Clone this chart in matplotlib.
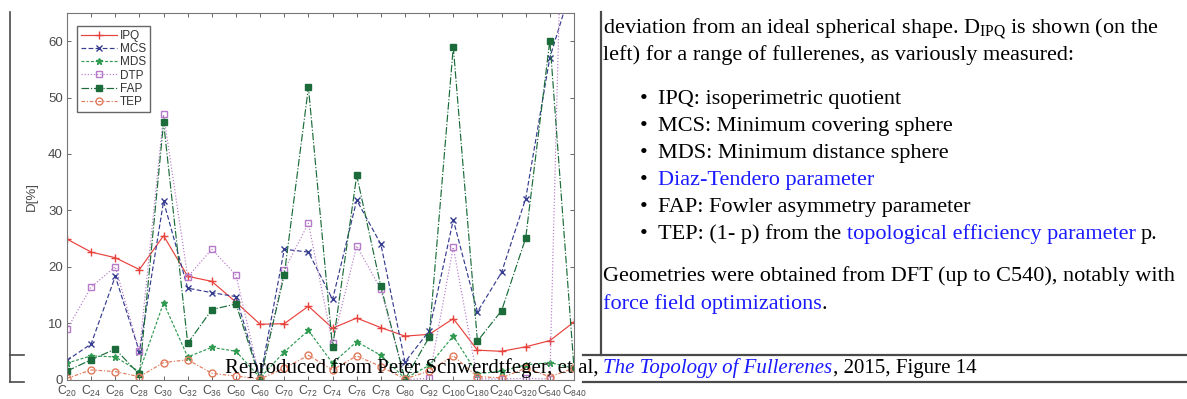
import matplotlib.pyplot as plt
from matplotlib.lines import Line2D
from matplotlib.text import Annotation

# fullerene sizes on the x axis
cages = ["20", "24", "26", "28", "30", "32", "36", "50", "60", "70", "72",
         "74", "76", "78", "80", "92", "100", "180", "240", "320", "540", "840"]

# D[%] for each measure
ipq = [24.9, 22.6, 21.6, 19.5, 25.5, 18.3, 17.4, 13.7, 9.8, 9.9, 13.0,
       9.1, 10.9, 9.2, 7.7, 8.0, 10.8, 5.2, 5.0, 5.8, 6.9, 10.2]
mcs = [3.4, 6.3, 18.3, 4.9, 31.6, 16.2, 15.4, 14.7, 0.2, 23.1, 22.6,
       14.2, 31.8, 24.0, 3.1, 8.6, 28.3, 12.0, 19.0, 32.1, 57.1, 71.0]
mds = [2.9, 4.2, 4.0, 1.4, 13.6, 4.0, 5.7, 5.0, 0.3, 4.9, 8.7,
       2.9, 6.7, 4.3, 0.2, 2.5, 7.7, 1.0, 1.5, 2.6, 3.0, 2.0]
dtp = [8.9, 16.4, 20.0, 5.0, 47.0, 18.2, 23.1, 18.5, 0.0, 19.4, 27.7,
       6.4, 23.7, 16.0, 0.0, 0.2, 23.5, 0.1, 0.1, 0.2, 0.1, 170.0]
fap = [1.5, 3.5, 5.4, 0.9, 45.6, 6.4, 12.4, 13.4, 0.0, 18.6, 51.8,
       5.7, 36.2, 16.5, 0.0, 7.5, 59.0, 6.8, 12.2, 25.1, 60.1, 2.0]
tep = [0.2, 1.7, 1.4, 0.5, 3.0, 3.5, 1.1, 0.6, 0.1, 2.0, 4.3,
       1.7, 4.2, 2.3, 0.1, 1.5, 4.2, 0.5, 0.3, 2.0, 0.5, 2.0]

W, H = 1187, 399


def fx(x):
    return x / W


def fy(y):
    return 1 - y / H


fig = plt.figure(figsize=(W / 100, H / 100), dpi=100)
ax = fig.add_axes([fx(67), fy(379.5), (574 - 67) / W, (379.5 - 13) / H])

xs = list(range(1, len(cages) + 1))
series = [
    ("IPQ", ipq, "#e8423c", "-", "+", "#e8423c", 6),
    ("MCS", mcs, "#363c8e", (0, (4, 2)), "x", "#363c8e", 5),
    ("MDS", mds, "#2f9a50", (0, (2.5, 1.5)), "*", "#2f9a50", 5),
    ("DTP", dtp, "#b57ac8", ":", "s", "none", 5),
    ("FAP", fap, "#1b6c3a", "-.", "s", "#1b6c3a", 5),
    ("TEP", tep, "#e07a5c", (0, (3, 1.5, 1, 1.5)), "o", "none", 5),
]
for name, vals, col, ls, mk, mfc, ms in series:
    ax.plot(xs, vals, color=col, linestyle=ls, marker=mk, markerfacecolor=mfc,
            markeredgecolor=col, markersize=ms, linewidth=0.85, label=name)

ax.set_xlim(1, 22)
ax.set_ylim(0, 65)
ax.set_yticks(range(0, 61, 10))
ax.set_xticks(xs)
ax.set_xticklabels([r"C$_{\mathregular{%s}}$" % c for c in cages])
ax.tick_params(direction="in", length=3, top=True, right=True, width=0.7,
               colors="#666666", labelcolor="#4a4a4a", labelsize=9.5, pad=3)
ax.tick_params(axis="x", labelsize=8.8)
for lab in ax.get_xticklabels() + ax.get_yticklabels():
    lab.set_family("Liberation Sans")
for sp in ax.spines.values():
    sp.set_color("#777777")
    sp.set_linewidth(0.8)
ax.set_ylabel("D[%]", family="Liberation Sans", fontsize=9.5, color="#4a4a4a",
              labelpad=7)

leg = ax.legend(loc="upper left", bbox_to_anchor=(0.02, 0.965), borderaxespad=0,
                prop={"family": "Liberation Sans", "size": 8.5},
                handlelength=3.0, handletextpad=0.3, labelspacing=0.1,
                borderpad=0.35, fancybox=False, framealpha=1, edgecolor="#666666")
for t in leg.get_texts():
    t.set_color("#333333")

# page frame lines around the figure
frame = "#4a4a4a"
fig.add_artist(Line2D([fx(10), fx(10)], [fy(12), fy(382)], color=frame, lw=1.2))
fig.add_artist(Line2D([fx(10), fx(24)], [fy(355), fy(355)], color=frame, lw=1.2))
fig.add_artist(Line2D([fx(10), fx(24)], [fy(382), fy(382)], color=frame, lw=1.2))
fig.add_artist(Line2D([fx(600.5), fx(600.5)], [fy(12), fy(355)], color=frame, lw=1.6))
fig.add_artist(Line2D([fx(583), fx(1187)], [fy(355), fy(355)], color=frame, lw=1.6))
fig.add_artist(Line2D([fx(583), fx(1187)], [fy(382), fy(382)], color=frame, lw=1.6))

serif = "Liberation Serif"
blue = "#1a1aff"
BODY = 16
SP = 4.0


def runs(x, y, pieces, size=BODY):
    prev = fig.text(fx(x), fy(y), pieces[0][0], color=pieces[0][1], style=pieces[0][2],
                    family=serif, fontsize=size, va="baseline")
    for s, col, st, gap in pieces[1:]:
        a = Annotation(s, xy=(1, 0), xycoords=prev, xytext=(gap, 0),
                       textcoords="offset points", va="bottom", ha="left",
                       color=col, style=st, family=serif, fontsize=size)
        fig.add_artist(a)
        prev = a


fig.text(fx(603), fy(34), r"deviation from an ideal spherical shape. D$_{\mathregular{IPQ}}$ is shown (on the",
         family=serif, fontsize=BODY, va="baseline")
fig.text(fx(603), fy(60), "left) for a range of fullerenes, as variously measured:",
         family=serif, fontsize=BODY, va="baseline")

bullets = [
    [("IPQ: isoperimetric quotient", "black", "normal")],
    [("MCS: Minimum covering sphere", "black", "normal")],
    [("MDS: Minimum distance sphere", "black", "normal")],
    [("Diaz-Tendero parameter", blue, "normal")],
    [("FAP: Fowler asymmetry parameter", "black", "normal")],
    [("TEP: (1- p) from the", "black", "normal"),
     ("topological efficiency parameter", blue, "normal", SP),
     ("p.", "black", "normal", SP)],
]
for i, b in enumerate(bullets):
    yb = 104 + 27 * i
    fig.text(fx(640), fy(yb), "\u2022", family=serif, fontsize=BODY, va="baseline")
    runs(658, yb, b)

fig.text(fx(603), fy(281), "Geometries were obtained from DFT (up to C540), notably with",
         family=serif, fontsize=BODY, va="baseline")
runs(603, 309, [("force field optimizations", blue, "normal"), (".", "black", "normal", 0)])

runs(225, 373, [("Reproduced from Peter Schwerdtfeger, et al,", "black", "normal"),
                ("The Topology of Fullerenes", blue, "italic", 3.5),
                (", 2015, Figure 14", "black", "normal", 0)], size=15)

fig.savefig("out.png", dpi=100)
